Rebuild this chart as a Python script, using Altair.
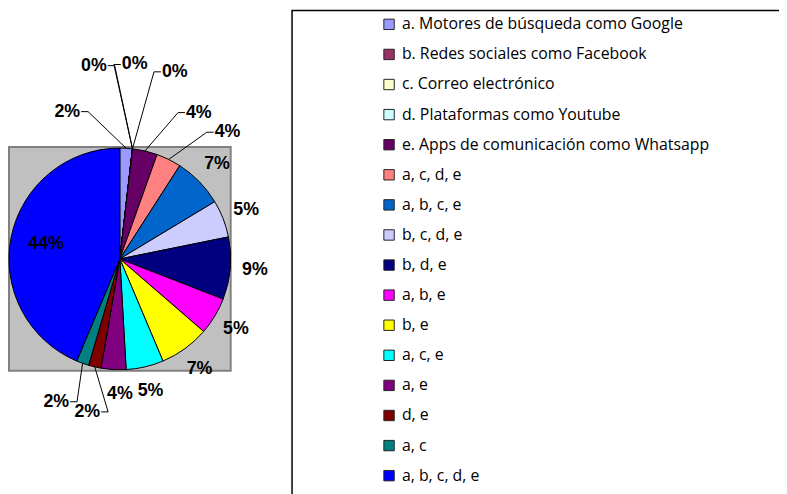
import math
import altair as alt
import pandas as pd

# ---- data ----
categories = [
    "a. Motores de búsqueda como Google",
    "b. Redes sociales como Facebook",
    "c. Correo electrónico",
    "d. Plataformas como Youtube",
    "e. Apps de comunicación como Whatsapp",
    "a, c, d, e",
    "a, b, c, e",
    "b, c, d, e",
    "b, d, e",
    "a, b, e",
    "b, e",
    "a, c, e",
    "a, e",
    "d, e",
    "a, c",
    "a, b, c, d, e",
]
counts = [1, 0, 0, 0, 2, 2, 4, 3, 5, 3, 4, 3, 2, 1, 1, 24]
colors = [
    "#9999FF", "#993366", "#FFFFCC", "#CCFFFF", "#660066", "#FF8080",
    "#0066CC", "#CCCCFF", "#000080", "#FF00FF", "#FFFF00", "#00FFFF",
    "#800080", "#800000", "#008080", "#0000FF",
]

total = sum(counts)
W, H = 779, 486
CX, CY, R = 113, 251, 112

df = pd.DataFrame({"cat": categories, "count": counts, "idx": list(range(len(counts)))})

# ---- label layout (derived from the data) ----
cum = 0
mids = []
for c in counts:
    mids.append(cum + c / 2)
    cum += c
deg = [m / total * 360 for m in mids]
small = [c <= 2 for c in counts]
pos = list(deg)
SEP = 12.0
for _ in range(400):
    moved = False
    for i in range(len(pos) - 1):
        if small[i] and small[i + 1] and pos[i + 1] - pos[i] < SEP - 1e-6:
            d = (SEP - (pos[i + 1] - pos[i])) / 2
            pos[i] -= d
            pos[i + 1] += d
            moved = True
    if not moved:
        break

rows = []
lines = []
for i, c in enumerate(counts):
    share = c / total
    disp = abs(pos[i] - deg[i])
    if share > 0.25:
        r = 76
    elif c == 0:
        r = 197
    elif c == 1:
        r = 158
    elif c == 2 and disp >= 4:
        r = 168
    else:
        r = 137
    lab = f"{round(100 * share)}%"
    rows.append({"cat": categories[i], "lab": lab, "t": pos[i] / 360 * total, "r": r})
    if r > 137:
        a0 = math.radians(deg[i])
        a1 = math.radians(pos[i])
        ex, ey = CX + R * math.sin(a0), CY - R * math.cos(a0)
        lx, ly = CX + r * math.sin(a1), CY - r * math.cos(a1)
        side = 1 if lx < CX else -1
        pts = [(ex, ey), (lx + side * 21, ly), (lx + side * 14, ly)]
        for k, (px, py) in enumerate(pts):
            lines.append({"cat": categories[i], "k": k, "px": px, "py": py})

lab_df = pd.DataFrame(rows)
line_df = pd.DataFrame(lines)
one = pd.DataFrame({"k": [0]})

frame = alt.Chart(one).mark_rect(fill="white", stroke="black", strokeWidth=1.5).encode(
    x=alt.value(287), x2=alt.value(830), y=alt.value(0), y2=alt.value(530)
)
plot_bg = alt.Chart(one).mark_rect(fill="#C0C0C0", stroke="#808080", strokeWidth=2).encode(
    x=alt.value(1), x2=alt.value(225), y=alt.value(138), y2=alt.value(364)
)

arcs = alt.Chart(df).mark_arc(radius=R, stroke="black", strokeWidth=1).encode(
    theta=alt.Theta("count:Q", stack=True, scale=alt.Scale(domain=[0, total])),
    order=alt.Order("idx:Q"),
    color=alt.Color(
        "cat:N",
        scale=alt.Scale(domain=categories, range=colors),
        legend=alt.Legend(
            title=None,
            orient="none",
            legendX=377,
            legendY=6,
            symbolType="square",
            symbolSize=110,
            symbolStrokeColor="#222222",
            symbolStrokeWidth=1,
            labelFont="Open Sans",
            labelFontSize=16,
            labelColor="black",
            labelLimit=500,
            rowPadding=14.4,
            padding=0,
            labelOffset=5,
        ),
    ),
    x=alt.value(CX),
    y=alt.value(CY),
)

leaders = alt.Chart(line_df).mark_line(color="black", strokeWidth=1).encode(
    x=alt.X("px:Q", scale=alt.Scale(domain=[0, W], nice=False, zero=False), axis=None),
    y=alt.Y("py:Q", scale=alt.Scale(domain=[0, H], nice=False, zero=False, reverse=True), axis=None),
    detail="cat:N",
    order="k:Q",
)

labels = alt.Chart(lab_df).mark_text(
    font="Liberation Sans", fontWeight="bold", fontSize=18, color="black",
    align="center", baseline="middle",
).encode(
    theta=alt.Theta("t:Q", scale=alt.Scale(domain=[0, total])),
    radius=alt.Radius("r:Q", scale=alt.Scale(domain=[0, 300], range=[0, 300], zero=True)),
    text="lab:N",
    x=alt.value(CX),
    y=alt.value(CY),
)

chart = alt.layer(frame, plot_bg, arcs, leaders, labels).properties(
    width=W, height=H, padding=0, autosize=alt.AutoSizeParams(type="none"), background="white"
).configure_view(stroke=None)

chart.save("out.html", embed_options={"renderer": "svg", "actions": False})
